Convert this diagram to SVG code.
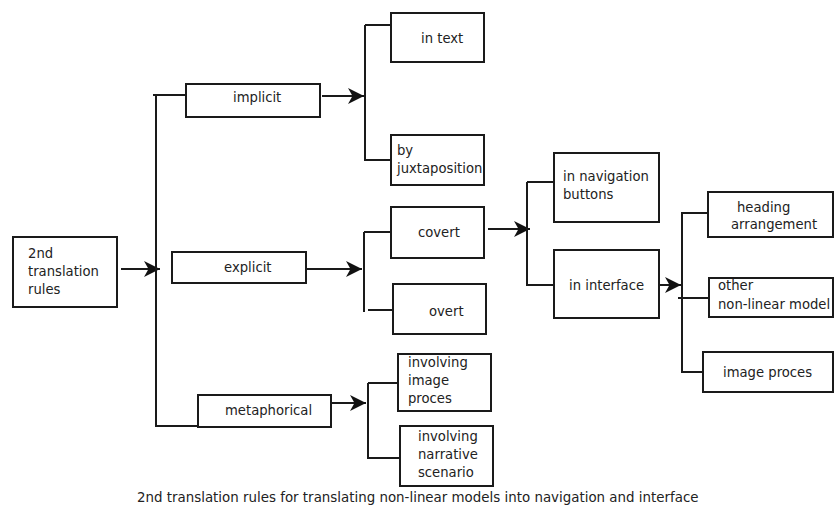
<svg xmlns="http://www.w3.org/2000/svg" width="835" height="507" viewBox="0 0 835 507">
  <defs>
    <style>
      .box { fill: #fff; stroke: #1a1a1a; stroke-width: 2; }
      .wire { fill: none; stroke: #1a1a1a; stroke-width: 2; }
      .lbl { font-family: "DejaVu Sans", "Noto Sans", sans-serif; font-size: 13.2px; fill: #222; }
      .cap { font-family: "DejaVu Sans", "Noto Sans", sans-serif; font-size: 13.4px; fill: #222; }
    </style>
    <marker id="head" markerUnits="userSpaceOnUse" markerWidth="17" markerHeight="16" refX="16" refY="8" orient="auto">
      <path d="M0,0 L16,8 L0,16 L4.5,8 z" fill="#111"/>
    </marker>
    <clipPath id="juxClip">
      <rect x="392" y="136" width="91" height="48"/>
    </clipPath>
  </defs>
  <rect width="835" height="507" fill="#fff"/>

  <!-- connectors -->
  <g id="connectors">
    <!-- root fan-out -->
    <path class="wire" d="M121,269 H160" marker-end="url(#head)"/>
    <path class="wire" d="M153,95 H186 M156,95 V427 M156,426 H198"/>
    <!-- implicit branch -->
    <path class="wire" d="M322,96 H364" marker-end="url(#head)"/>
    <path class="wire" d="M365,25 V161 M365,25 H391 M365,160 H391"/>
    <!-- explicit branch -->
    <path class="wire" d="M306,269 H362" marker-end="url(#head)"/>
    <path class="wire" d="M364,232 V312 M364,232 H391 M368,310 H393"/>
    <!-- metaphorical branch -->
    <path class="wire" d="M331,403 H366" marker-end="url(#head)"/>
    <path class="wire" d="M368,383 V459 M368,383 H398 M368,458 H400"/>
    <!-- covert branch -->
    <path class="wire" d="M488,229 H530" marker-end="url(#head)"/>
    <path class="wire" d="M527,182 V286 M527,182 H554 M527,285 H554"/>
    <!-- interface branch -->
    <path class="wire" d="M659,285 H681" marker-end="url(#head)"/>
    <path class="wire" d="M682,212 V373 M682,213 H708 M678,298 H709 M682,372 H703"/>
  </g>

  <g id="root">
    <rect class="box" x="13" y="237" width="104" height="70"/>
    <text class="lbl" x="28" y="258">2nd<tspan x="28" y="276">translation</tspan><tspan x="28" y="294">rules</tspan></text>
  </g>

  <g id="implicit">
    <rect class="box" x="186" y="84" width="134" height="33"/>
    <text class="lbl" x="233" y="102">implicit</text>
  </g>
  <g id="explicit">
    <rect class="box" x="172" y="252" width="134" height="31"/>
    <text class="lbl" x="224" y="272">explicit</text>
  </g>
  <g id="metaphorical">
    <rect class="box" x="198" y="395" width="133" height="32"/>
    <text class="lbl" x="225" y="415">metaphorical</text>
  </g>

  <g id="in-text">
    <rect class="box" x="391" y="13" width="93" height="49"/>
    <text class="lbl" x="421" y="43">in text</text>
  </g>
  <g id="by-juxtaposition">
    <rect class="box" x="391" y="135" width="93" height="50"/>
    <text class="lbl" x="397" y="155" clip-path="url(#juxClip)">by<tspan x="397" y="173">juxtaposition</tspan></text>
  </g>

  <g id="covert">
    <rect class="box" x="391" y="207" width="93" height="51"/>
    <text class="lbl" x="418" y="237">covert</text>
  </g>
  <g id="overt">
    <rect class="box" x="393" y="284" width="93" height="50"/>
    <text class="lbl" x="429" y="316">overt</text>
  </g>

  <g id="involving-image">
    <rect class="box" x="398" y="354" width="93" height="57"/>
    <text class="lbl" x="408" y="367">involving<tspan x="408" y="385">image</tspan><tspan x="408" y="403">proces</tspan></text>
  </g>
  <g id="involving-narrative">
    <rect class="box" x="400" y="426" width="93" height="60"/>
    <text class="lbl" x="418" y="441">involving<tspan x="418" y="459">narrative</tspan><tspan x="418" y="477">scenario</tspan></text>
  </g>

  <g id="navigation-buttons">
    <rect class="box" x="554" y="153" width="105" height="69"/>
    <text class="lbl" x="563" y="181">in navigation<tspan x="563" y="199">buttons</tspan></text>
  </g>
  <g id="in-interface">
    <rect class="box" x="554" y="250" width="105" height="68"/>
    <text class="lbl" x="569" y="290">in interface</text>
  </g>

  <g id="heading-arrangement">
    <rect class="box" x="708" y="192" width="125" height="45"/>
    <text class="lbl" x="737" y="212">heading<tspan x="731" y="229">arrangement</tspan></text>
  </g>
  <g id="other-model">
    <rect class="box" x="709" y="278" width="124" height="39"/>
    <text class="lbl" x="718" y="290">other<tspan x="718" y="309">non-linear model</tspan></text>
  </g>
  <g id="image-proces">
    <rect class="box" x="703" y="352" width="130" height="40"/>
    <text class="lbl" x="723" y="377">image proces</text>
  </g>

  <text class="cap" x="137" y="502">2nd translation rules for translating non-linear models into navigation and interface</text>
</svg>
